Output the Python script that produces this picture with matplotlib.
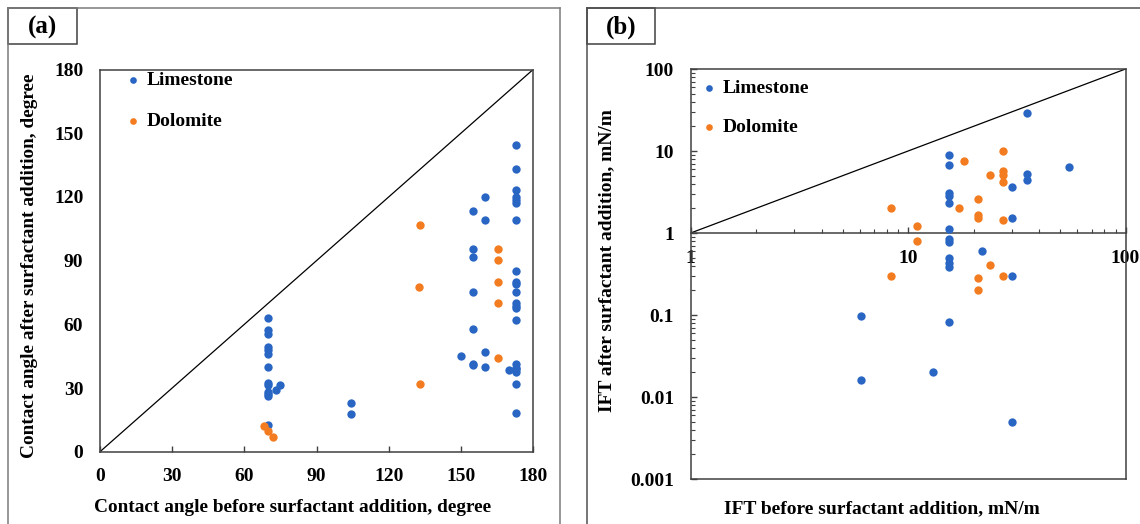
import numpy as np
import matplotlib.pyplot as plt
from matplotlib.lines import Line2D
from matplotlib.patches import Rectangle
from matplotlib.ticker import FixedLocator, LogLocator, NullFormatter

plt.rcParams['font.family'] = ['Liberation Serif', 'DejaVu Serif']
plt.rcParams['font.weight'] = 'bold'

# panel (a): contact angle, degree
lime_ca_before = [70, 70, 70, 70, 70, 70, 70, 70, 70, 70, 70, 70, 70,
                  73.1, 75.0, 104.4, 104.4,
                  155, 155, 155, 155, 155, 155, 155, 150.1,
                  160, 160, 160, 160, 170.2,
                  172.9, 172.9, 172.9, 172.9, 172.9, 172.9, 172.9, 172.9, 172.9, 172.9, 172.9,
                  172.9, 172.9, 172.9, 172.9, 172.9, 172.9, 172.9, 172.9, 172.9, 172.9]
lime_ca_after = [63.1, 57.3, 55.6, 49.3, 47.9, 46.1, 40.0, 32.5, 31.2, 28.2, 27.0, 26.1, 12.4,
                 29.2, 31.2, 23.1, 17.9,
                 113.3, 95.3, 91.8, 75.2, 57.6, 41.4, 41.0, 45.0,
                 120.1, 109.1, 47.2, 40.0, 38.3,
                 144.4, 133.1, 123.2, 120.1, 118.5, 117.2, 109.1, 85.1, 80.0, 79.1, 75.2,
                 70.2, 68.7, 67.8, 62.1, 41.1, 39.5, 38.8, 37.7, 32.0, 18.0]
dolo_ca_before = [68.1, 70.0, 71.8, 133.1, 132.7, 133.1, 165.3, 165.3, 165.3, 165.3, 165.3]
dolo_ca_after = [12.1, 9.7, 7.1, 107.0, 77.5, 32.0, 95.3, 90.1, 80.0, 70.0, 44.1]

# panel (b): IFT, mN/m
lime_ift_before = [35.1, 15.4, 15.4, 15.4, 15.4, 15.4, 15.4, 15.4, 15.4, 15.4, 15.4, 15.4, 15.4,
                   6.07, 6.07, 13.0, 30.0, 30.0, 30.0, 30.0, 35.1, 35.1, 55.2, 21.9]
lime_ift_after = [29.3, 8.85, 6.68, 3.05, 2.85, 2.30, 1.11, 0.84, 0.77, 0.49, 0.43, 0.39, 0.083,
                  0.097, 0.016, 0.020, 3.64, 1.51, 0.30, 0.005, 5.19, 4.47, 6.44, 0.60]
dolo_ift_before = [8.33, 8.33, 11.0, 11.0, 18.0, 17.1, 20.9, 20.9, 20.9, 20.9, 20.9,
                   23.9, 23.9, 27.4, 27.4, 27.4, 27.4, 27.4, 27.4]
dolo_ift_after = [2.02, 0.30, 1.22, 0.81, 7.55, 2.02, 2.62, 1.66, 1.51, 0.285, 0.20,
                  5.09, 0.41, 9.9, 5.75, 5.14, 4.15, 1.43, 0.30]

ca_ticks = [0, 30, 60, 90, 120, 150, 180]
ift_x_ticks = [1, 10, 100]
ift_y_ticks = [0.001, 0.01, 0.1, 1, 10, 100]

blue = '#2966C4'
orange = '#F47C20'
spine_col = '#404040'
dot = 36

W, H = 1140, 524
fig = plt.figure(figsize=(W / 100, H / 100), dpi=100)


def fx(px):
    return px / W


def fy(py):
    return 1 - py / H


def frame(x0, x1, color):
    # open frame round a panel, plus the small label box in its corner
    fig.add_artist(Line2D([fx(x0), fx(x0)], [fy(8), fy(530)], color=color, lw=1.1))
    fig.add_artist(Line2D([fx(x0), fx(x1)], [fy(8), fy(8)], color=color, lw=1.1))
    if x1 < W:
        fig.add_artist(Line2D([fx(x1), fx(x1)], [fy(8), fy(530)], color=color, lw=1.1))


frame(8, 560, '#7a7a7a')
frame(586.7, 1150, '#505050')
for x0, x1, lab in [(8, 77, '(a)'), (586.7, 654.7, '(b)')]:
    fig.add_artist(Rectangle((fx(x0), fy(44)), fx(x1) - fx(x0), fy(8) - fy(44),
                             fill=False, ec='#404040', lw=1.1))
    fig.text(fx((x0 + x1) / 2), fy(27), lab, ha='center', va='center', fontsize=18, fontweight='bold')

# ---- panel (a)
ax1 = fig.add_axes([fx(100), fy(451.7), fx(533) - fx(100), (451.7 - 69.6) / H])
ax1.plot([0, 180], [0, 180], color='black', lw=0.9, zorder=1)
ax1.scatter(lime_ca_before, lime_ca_after, s=dot, color=blue, lw=0, label='Limestone', zorder=3)
ax1.scatter(dolo_ca_before, dolo_ca_after, s=dot, color=orange, lw=0, label='Dolomite', zorder=4)
ax1.set_xlim(0, 180)
ax1.set_ylim(0, 180)
ax1.set_xticks(ca_ticks)
ax1.set_yticks(ca_ticks)
ax1.tick_params(axis='x', direction='in', length=4.3, width=1, color=spine_col, pad=12, labelsize=14)
ax1.tick_params(axis='y', length=0, pad=12, labelsize=14)
ax1.legend(loc='upper left', bbox_to_anchor=(0.058, 0.995), frameon=False, fontsize=14,
           handlelength=0.8, handletextpad=0.3, borderpad=0, borderaxespad=0, labelspacing=1.2,
           scatterpoints=1, markerscale=0.8)
fig.text(fx(30), fy(266), 'Contact angle after surfactant addition, degree', rotation=90,
         ha='center', va='center', fontsize=13.9, fontweight='bold')
fig.text(fx(293), fy(507), 'Contact angle before surfactant addition, degree',
         ha='center', va='center', fontsize=13.9, fontweight='bold')

# ---- panel (b)
ax2 = fig.add_axes([fx(690.7), fy(479), (1125.5 - 690.7) / W, (479 - 69) / H])
ax2.set_xscale('log')
ax2.set_yscale('log')
ax2.plot([1, 100], [1, 100], color='black', lw=0.9, zorder=1)
ax2.scatter(lime_ift_before, lime_ift_after, s=dot, color=blue, lw=0, label='Limestone', zorder=3)
ax2.scatter(dolo_ift_before, dolo_ift_after, s=dot, color=orange, lw=0, label='Dolomite', zorder=4)
ax2.set_xlim(1, 100)
ax2.set_ylim(0.001, 100)
ax2.spines['bottom'].set_position(('data', 1))
ax2.plot([0, 1], [0, 0], transform=ax2.transAxes, color=spine_col, lw=1.1, clip_on=False)
ax2.xaxis.set_major_locator(FixedLocator(ift_x_ticks))
ax2.yaxis.set_major_locator(FixedLocator(ift_y_ticks))
ax2.set_xticklabels([f'{v:g}' for v in ift_x_ticks])
ax2.set_yticklabels([f'{v:g}' for v in ift_y_ticks])
ax2.xaxis.set_minor_locator(LogLocator(base=10, subs=np.arange(2, 10)))
ax2.yaxis.set_minor_locator(LogLocator(base=10, subs=np.arange(2, 10)))
ax2.xaxis.set_minor_formatter(NullFormatter())
ax2.yaxis.set_minor_formatter(NullFormatter())
ax2.tick_params(which='major', direction='in', length=4.3, width=1, color=spine_col, pad=12, labelsize=14)
ax2.tick_params(which='minor', direction='in', length=3, width=0.8, color=spine_col)
ax2.legend(loc='upper left', bbox_to_anchor=(0.025, 0.974), frameon=False, fontsize=14,
           handlelength=0.8, handletextpad=0.3, borderpad=0, borderaxespad=0, labelspacing=1.1,
           scatterpoints=1, markerscale=0.8)
fig.text(fx(606.4), fy(261), 'IFT after surfactant addition, mN/m', rotation=90,
         ha='center', va='center', fontsize=14, fontweight='bold')
fig.text(fx(882), fy(509), 'IFT before surfactant addition, mN/m',
         ha='center', va='center', fontsize=14, fontweight='bold')

for ax in (ax1, ax2):
    for s in ax.spines.values():
        s.set_color(spine_col)
        s.set_linewidth(1.1)
    for lab in ax.get_xticklabels() + ax.get_yticklabels():
        lab.set_fontweight('bold')

fig.savefig('out.png', dpi=100)
